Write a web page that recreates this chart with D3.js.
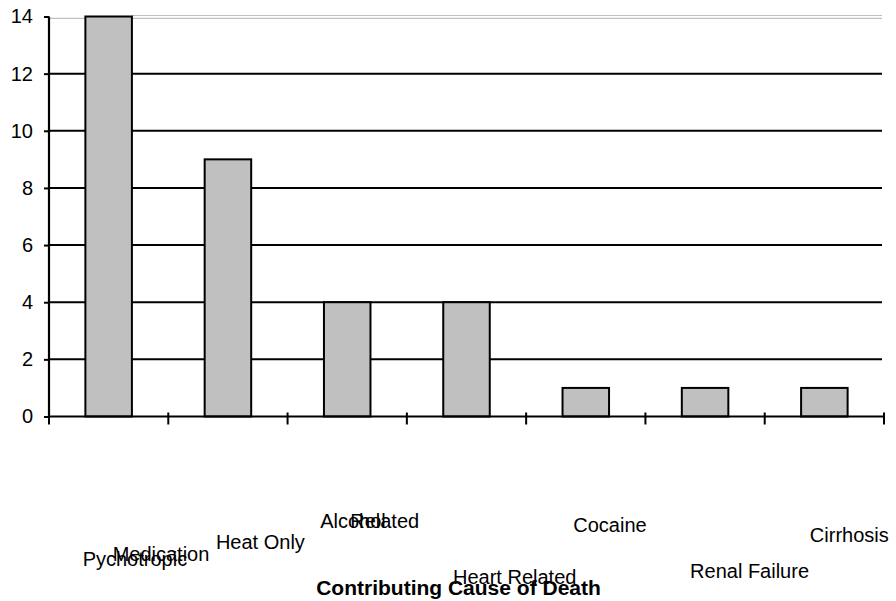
<!DOCTYPE html>
<html>
<head>
<meta charset="utf-8">
<script src="https://cdn.jsdelivr.net/npm/d3@7"></script>
<style>
  html, body { margin: 0; padding: 0; background: #fff; }
  svg { display: block; font-family: "Liberation Sans", Arial, sans-serif; }
</style>
</head>
<body>
<svg id="chart" width="896" height="601"></svg>
<script>
// Deaths by contributing cause
const categories = ["Pychotropic Medication", "Heat Only", "Alcohol Related", "Heart Related", "Cocaine", "Renal Failure", "Cirrhosis"];
const deaths = [14, 9, 4, 4, 1, 1, 1];
const yTicks = [0, 2, 4, 6, 8, 10, 12, 14];
const axisTitle = "Contributing Cause of Death";

// Category label pieces (wrapped lines), placed relative to each band centre
const labelPieces = [
  { cat: 0, text: "Pychotropic", dx: -26, y: 566 },
  { cat: 0, text: "Medication", dx: 4, y: 561 },
  { cat: 1, text: "Heat Only", dx: -12, y: 549 },
  { cat: 2, text: "Alcohol", dx: -27, y: 528 },
  { cat: 2, text: "Related", dx: 3, y: 528 },
  { cat: 3, text: "Heart Related", dx: -13.5, y: 584 },
  { cat: 4, text: "Cocaine", dx: -12.5, y: 532 },
  { cat: 5, text: "Renal Failure", dx: -15, y: 578 },
  { cat: 6, text: "Cirrhosis", dx: -14.5, y: 542 }
];

const svg = d3.select("#chart");
const plotLeft = 49, plotRight = 884, plotTop = 16.5, plotBottom = 416.5;

const x = d3.scaleBand().domain(categories).range([plotLeft, plotRight])
  .paddingInner(0.61).paddingOuter(0.305);
const y = d3.scaleLinear().domain([0, 14]).range([plotBottom, plotTop]);

// Light frame line at the top of the plot area
svg.append("line")
  .attr("x1", x(categories[0]) + x.bandwidth()).attr("x2", 882)
  .attr("y1", 15.5).attr("y2", 15.5)
  .attr("stroke", "#c0c0c0").attr("stroke-width", 1.2);

// Horizontal gridlines
svg.append("g").selectAll("line")
  .data(yTicks.filter(d => d > 0))
  .join("line")
  .attr("x1", plotLeft).attr("x2", 882)
  .attr("y1", d => d === 14 ? y(d) + 1.8 : y(d))
  .attr("y2", d => d === 14 ? y(d) + 1.8 : y(d))
  .attr("stroke", d => d === 14 ? "#c0c0c0" : "#000")
  .attr("stroke-width", d => d === 14 ? 1.2 : 2);

// Bars
svg.append("g").selectAll("rect")
  .data(categories)
  .join("rect")
  .attr("x", d => x(d))
  .attr("width", x.bandwidth())
  .attr("y", (d, i) => y(deaths[i]))
  .attr("height", (d, i) => y(0) - y(deaths[i]))
  .attr("fill", "#c0c0c0")
  .attr("stroke", "#000")
  .attr("stroke-width", 2);

// Y axis
const yAxis = d3.axisLeft(y).tickValues(yTicks).tickSize(5).tickPadding(11).tickFormat(d3.format("d"));
const gy = svg.append("g").attr("transform", `translate(${plotLeft},0)`).call(yAxis);
gy.select(".domain").attr("stroke", "#000").attr("stroke-width", 2.2).attr("d", `M0,${plotTop}V${plotBottom}`);
gy.selectAll(".tick line").attr("stroke", "#000").attr("stroke-width", 2);
gy.selectAll(".tick text").attr("font-size", 20).attr("fill", "#000")
  .attr("font-family", "Liberation Sans, Arial, sans-serif");

// X axis baseline with ticks at category boundaries
const boundaries = categories.map(c => x(c) - x.step() * x.paddingInner() / 2).concat([plotRight]);
boundaries[0] = plotLeft;
svg.append("line")
  .attr("x1", plotLeft).attr("x2", plotRight)
  .attr("y1", y(0)).attr("y2", y(0))
  .attr("stroke", "#000").attr("stroke-width", 2);
svg.append("g").selectAll("line")
  .data(boundaries)
  .join("line")
  .attr("x1", d => d).attr("x2", d => d)
  .attr("y1", y(0) - 4).attr("y2", y(0) + 8)
  .attr("stroke", "#000").attr("stroke-width", 2);

// Category labels
svg.append("g").selectAll("text")
  .data(labelPieces)
  .join("text")
  .attr("x", d => x(categories[d.cat]) + x.bandwidth() / 2 + d.dx)
  .attr("y", d => d.y)
  .attr("font-size", 20)
  .attr("fill", "#000")
  .text(d => d.text);

// Axis title
svg.append("text")
  .attr("x", 458.5).attr("y", 594.5)
  .attr("text-anchor", "middle")
  .attr("font-size", 21)
  .attr("font-weight", "bold")
  .attr("fill", "#000")
  .text(axisTitle);
</script>
</body>
</html>
